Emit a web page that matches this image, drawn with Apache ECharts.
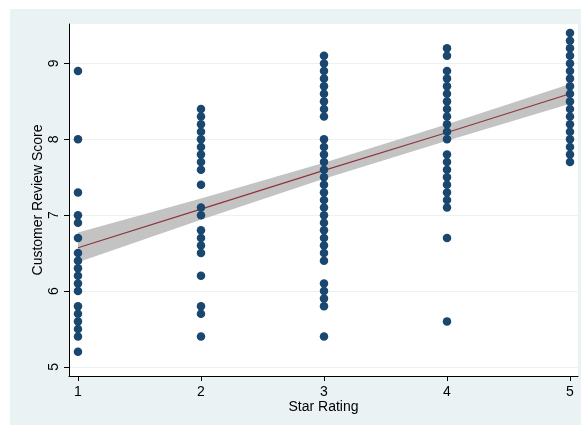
<!DOCTYPE html>
<html>
<head>
<meta charset="utf-8">
<script src="https://cdn.jsdelivr.net/npm/echarts@6/dist/echarts.min.js"></script>
<style>
  html, body { margin: 0; padding: 0; background: #fff; }
  #main { width: 581px; height: 425px; }
</style>
</head>
<body>
<div id="main"></div>
<script>
// scores, one array per star rating
var score1 = [8.9, 8.0, 7.3, 7.0, 6.9, 6.7, 6.5, 6.4, 6.3, 6.2, 6.1, 6.0, 5.8, 5.7, 5.6, 5.5, 5.4, 5.2];
var score2 = [8.4, 8.3, 8.2, 8.1, 8.0, 7.9, 7.8, 7.7, 7.6, 7.4, 7.1, 7.0, 6.8, 6.7, 6.6, 6.5, 6.2, 5.8, 5.7, 5.4];
var score3 = [9.1, 9.0, 8.9, 8.8, 8.7, 8.6, 8.5, 8.4, 8.3,
  8.0, 7.9, 7.8, 7.7, 7.6, 7.5, 7.4, 7.3, 7.2, 7.1, 7.0, 6.9, 6.8, 6.7, 6.6, 6.5, 6.4,
  6.1, 6.0, 5.9, 5.8, 5.4];
var score4 = [9.2, 9.1, 8.9, 8.8, 8.7, 8.6, 8.5, 8.4, 8.3, 8.2, 8.1, 8.0,
  7.8, 7.7, 7.6, 7.5, 7.4, 7.3, 7.2, 7.1, 6.7, 5.6];
var score5 = [9.4, 9.3, 9.2, 9.1, 9.0, 8.9, 8.8, 8.7, 8.6, 8.5, 8.4, 8.3, 8.2, 8.1, 8.0, 7.9, 7.8, 7.7];
var ratings = [1, 2, 3, 4, 5];
var scoresByRating = [score1, score2, score3, score4, score5];

// fitted line and 95% band, read at each rating
var fitX = [1, 2, 3, 4, 5];
var fitY = [6.57, 7.08, 7.59, 8.09, 8.60];
var ciLow = [6.38, 6.94, 7.48, 7.98, 8.47];
var ciHigh = [6.77, 7.22, 7.69, 8.20, 8.73];

var yTicks = [5, 6, 7, 8, 9];
var xTicks = [1, 2, 3, 4, 5];

var points = [];
ratings.forEach(function (r, i) {
  scoresByRating[i].forEach(function (s) { points.push([r, s]); });
});

var myChart = echarts.init(document.getElementById('main'));
var font = 'Liberation Sans, Arial, sans-serif';

option = {
  animation: false,
  backgroundColor: '#fff',
  graphic: [{
    type: 'rect', z: -10, silent: true,
    shape: { x: 10, y: 9, width: 571, height: 416 },
    style: { fill: '#eaf2f3' }
  }],
  grid: {
    left: 69, right: 3, top: 24, bottom: 49,
    show: true, backgroundColor: '#fff', borderWidth: 0
  },
  xAxis: {
    type: 'value', min: 0.927, max: 5.065,
    name: 'Star Rating', nameLocation: 'middle', nameGap: 24,
    nameMoveOverlap: false,
    nameTextStyle: { color: '#000', fontSize: 14, fontFamily: font },
    axisLine: { show: true, onZero: false, lineStyle: { color: '#000', width: 1 } },
    axisTick: { show: true, length: 5, customValues: xTicks, lineStyle: { color: '#000' } },
    axisLabel: { customValues: xTicks, margin: 9, color: '#000', fontSize: 14, fontFamily: font },
    splitLine: { show: false }
  },
  yAxis: {
    type: 'value', min: 4.88, max: 9.52,
    name: 'Customer Review Score', nameLocation: 'middle', nameGap: 24,
    nameMoveOverlap: false,
    nameTextStyle: { color: '#000', fontSize: 14, fontFamily: font },
    axisLine: { show: true, onZero: false, lineStyle: { color: '#000', width: 1 } },
    axisTick: { show: true, length: 5, customValues: yTicks, lineStyle: { color: '#000' } },
    axisLabel: { customValues: yTicks, rotate: 90, margin: 8, color: '#000', fontSize: 14, fontFamily: font },
    splitLine: { show: false }
  },
  series: [
    {
      // grid lines only
      type: 'line', z: 0, symbol: 'none', silent: true, data: [],
      markLine: {
        silent: true, symbol: 'none', label: { show: false }, z: 0,
        lineStyle: { color: '#eaf2f3', type: 'solid', width: 1 },
        data: yTicks.map(function (v) { return { yAxis: v }; })
      }
    },
    {
      // confidence band
      type: 'custom', z: 1, silent: true,
      data: [0],
      renderItem: function (params, api) {
        var pts = [];
        fitX.forEach(function (x, i) { pts.push(api.coord([x, ciHigh[i]])); });
        for (var i = fitX.length - 1; i >= 0; i--) pts.push(api.coord([fitX[i], ciLow[i]]));
        return { type: 'polygon', shape: { points: pts }, style: { fill: '#c3c3c3' } };
      }
    },
    {
      type: 'line', z: 2, symbol: 'none', silent: true,
      lineStyle: { color: '#90353b', width: 1.2 },
      data: fitX.map(function (x, i) { return [x, fitY[i]]; })
    },
    {
      type: 'scatter', z: 3, symbolSize: 8.5,
      itemStyle: { color: '#1a476f', opacity: 1 },
      data: points
    }
  ]
};

myChart.setOption(option);
</script>
</body>
</html>
